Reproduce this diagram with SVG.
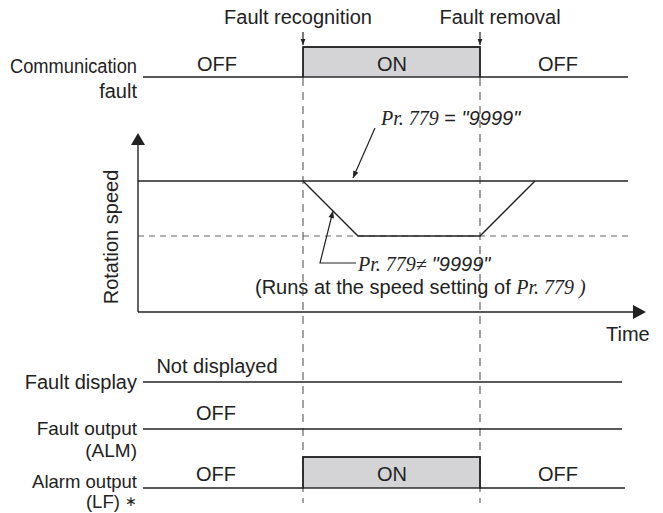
<svg xmlns="http://www.w3.org/2000/svg" width="663" height="513" viewBox="0 0 663 513">
<defs>
<style>
text{font-family:"Liberation Sans",Arial,sans-serif;font-size:20px;fill:#222}
.lbl{font-size:19px}
.lbs{font-size:18.5px}
.end{text-anchor:end}
.mid{text-anchor:middle}
.ser{font-family:"Liberation Serif","Times New Roman",serif;font-style:italic}
.obl{font-style:italic}
.sig{fill:none;stroke:#222;stroke-width:1.4}
.box{fill:#d4d4d6;stroke:#222;stroke-width:1.4}
.dash{fill:none;stroke:#666;stroke-width:1.2;stroke-dasharray:8 6}
.hdash{fill:none;stroke:#666;stroke-width:1.2;stroke-dasharray:6 5}
.ln{fill:none;stroke:#222;stroke-width:1.2}
</style>
<marker id="ah" viewBox="0 0 10 10" refX="10" refY="5" markerWidth="6" markerHeight="6" markerUnits="userSpaceOnUse" orient="auto">
<path d="M0,1 L10,5 L0,9 z" fill="#222"/>
</marker>
<marker id="ah2" viewBox="0 0 10 10" refX="10" refY="5" markerWidth="8" markerHeight="7" markerUnits="userSpaceOnUse" orient="auto">
<path d="M0,1 L10,5 L0,9 z" fill="#222"/>
</marker>
</defs>

<g id="guides">
<line class="dash" x1="303" y1="78" x2="303" y2="503"/>
<line class="dash" x1="480" y1="78" x2="480" y2="503"/>
</g>

<g id="events">
<text class="mid" x="298" y="24">Fault recognition</text>
<text class="mid" x="500" y="24">Fault removal</text>
</g>

<g id="comm-fault">
<text class="end" x="137" y="73" textLength="127" lengthAdjust="spacingAndGlyphs">Communication</text>
<text class="end" x="137" y="98">fault</text>
<rect class="box" x="303" y="47" width="177" height="30"/>
<polyline class="sig" points="143,77 303,77 303,47 480,47 480,77 628,77"/>
<text class="mid" x="217" y="71">OFF</text>
<text class="mid" x="392" y="71">ON</text>
<text class="mid" x="558" y="71">OFF</text>
</g>

<g id="speed">
<line class="sig" x1="138" y1="181" x2="628" y2="181"/>
<line class="hdash" x1="138" y1="236" x2="628" y2="236"/>
<polyline class="sig" points="303,181 358,236 480,236 535,181"/>
<text transform="translate(118,237) rotate(-90)" class="mid">Rotation speed</text>
<text x="381" y="125"><tspan class="ser">Pr. 779</tspan> = <tspan class="obl">"9999"</tspan></text>
<text x="358" y="271"><tspan class="ser">Pr. 779≠ </tspan><tspan class="obl">"9999"</tspan></text>
<text x="255" y="294">(Runs at the speed setting of <tspan class="ser">Pr. 779 )</tspan></text>
<text x="606" y="341">Time</text>
</g>

<g id="axes">
<line class="sig" x1="138" y1="312" x2="138" y2="140"/>
<line class="sig" x1="138" y1="312" x2="638" y2="312"/>
<path d="M138,133 L131,145 L145,145 z" fill="#222"/>
<path d="M646,312 L633,305 L633,319 z" fill="#222"/>
</g>

<g id="fault-display">
<text class="end" x="137" y="389">Fault display</text>
<line class="sig" x1="143" y1="382" x2="622" y2="382"/>
<text class="mid" x="217" y="373">Not displayed</text>
</g>

<g id="fault-output">
<text class="end lbl" x="137" y="435">Fault output</text>
<text class="end lbl" x="137" y="457">(ALM)</text>
<line class="sig" x1="143" y1="429" x2="622" y2="429"/>
<text class="mid" x="216" y="420">OFF</text>
</g>

<g id="alarm-output">
<text class="end lbs" x="137" y="488">Alarm output</text>
<text class="end lbs" x="137" y="508">(LF) <tspan font-size="14" dy="-2">∗</tspan></text>
<rect class="box" x="303" y="457" width="177" height="31"/>
<polyline class="sig" points="143,488 303,488 303,457 480,457 480,488 625,488"/>
<text class="mid" x="216" y="481">OFF</text>
<text class="mid" x="392" y="481">ON</text>
<text class="mid" x="558" y="481">OFF</text>
</g>

<g id="connectors">
<line class="ln" x1="303" y1="32" x2="303" y2="45" marker-end="url(#ah)"/>
<line class="ln" x1="480" y1="32" x2="480" y2="45" marker-end="url(#ah)"/>
<line class="ln" x1="375" y1="128" x2="353" y2="178" marker-end="url(#ah2)"/>
<polyline class="ln" points="356,263 320,263 333,211" marker-end="url(#ah2)"/>
</g>
</svg>
